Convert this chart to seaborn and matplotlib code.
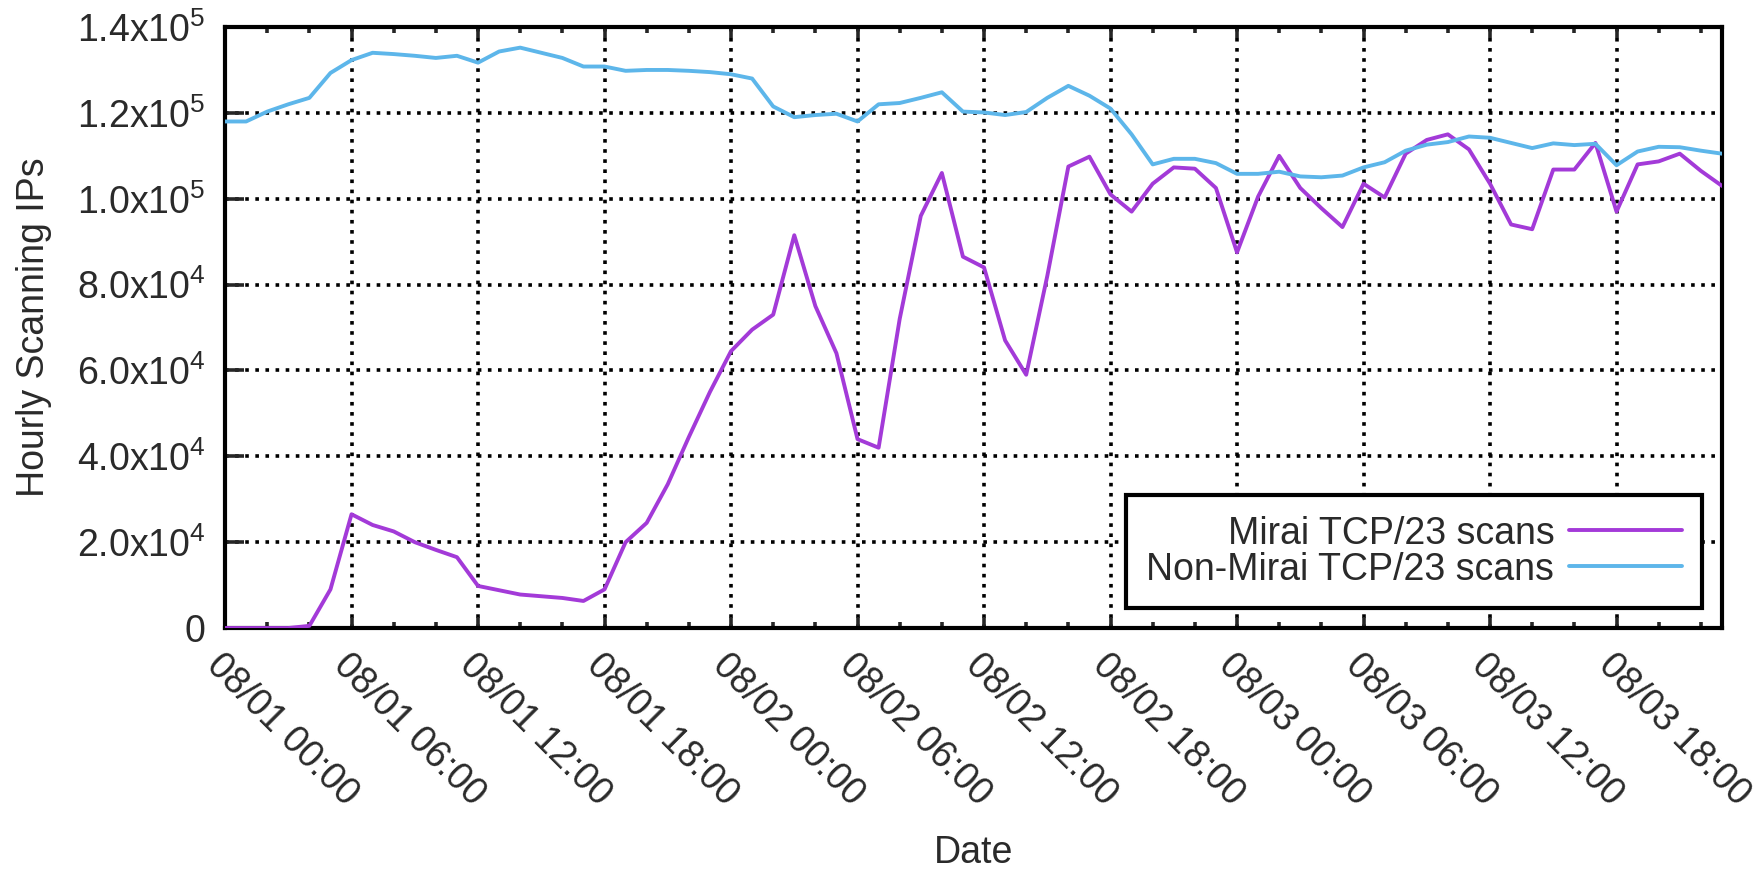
import pandas as pd
import matplotlib
matplotlib.use("Agg")
import matplotlib.pyplot as plt
import seaborn as sns
from matplotlib.ticker import MultipleLocator, FixedLocator

# Hourly scanning IPs, 08/01 00:00 .. 08/03 23:00 (72 hours)
hours = list(range(72))

mirai = [
    0, 0, 0, 0, 500, 9000, 26500, 24000, 22500, 20000, 18200, 16500,
    9800, 8800, 7800, 7400, 7000, 6300, 9000, 20000, 24500, 33500, 44500, 55000,
    64500, 69500, 73000, 91500, 75000, 64000, 44000, 42000, 72000, 96000, 106000, 86500,
    84000, 67000, 59000, 82000, 107500, 109800, 101000, 97000, 103500, 107300, 107000, 102500,
    87500, 100500, 110000, 102500, 97800, 93400, 103500, 100300, 110500, 113700, 115000, 111500,
    103500, 94000, 92900, 106800, 106800, 113000, 97000, 108000, 108700, 110500, 106500, 103000,
]

non_mirai = [
    118000, 118000, 120300, 122000, 123500, 129300, 132300, 134000, 133700, 133300, 132800, 133300,
    131700, 134300, 135200, 134000, 132800, 130800, 130800, 129800, 130000, 130000, 129800, 129500,
    129000, 128000, 121500, 119000, 119500, 119800, 118000, 122000, 122300, 123500, 124800, 120300,
    120100, 119500, 120200, 123500, 126300, 124000, 121000, 115000, 108000, 109300, 109300, 108300,
    105800, 105800, 106300, 105200, 105000, 105400, 107300, 108500, 111200, 112600, 113200, 114500,
    114200, 113000, 111800, 112900, 112500, 112800, 107800, 111000, 112100, 112000, 111200, 110500,
]

series_names = ["Mirai TCP/23 scans", "Non-Mirai TCP/23 scans"]
series_colors = {"Mirai TCP/23 scans": "#a33ad8", "Non-Mirai TCP/23 scans": "#5db6ea"}

xtick_hours = list(range(0, 72, 6))
xtick_labels = ["08/01 00:00", "08/01 06:00", "08/01 12:00", "08/01 18:00",
                "08/02 00:00", "08/02 06:00", "08/02 12:00", "08/02 18:00",
                "08/03 00:00", "08/03 06:00", "08/03 12:00", "08/03 18:00"]

ytick_values = [0, 20000, 40000, 60000, 80000, 100000, 120000, 140000]
ytick_labels = ["0",
                r"$\mathregular{2.0x10^{4}}$", r"$\mathregular{4.0x10^{4}}$",
                r"$\mathregular{6.0x10^{4}}$", r"$\mathregular{8.0x10^{4}}$",
                r"$\mathregular{1.0x10^{5}}$", r"$\mathregular{1.2x10^{5}}$",
                r"$\mathregular{1.4x10^{5}}$"]

df = pd.DataFrame({
    "hour": hours + hours,
    "ips": mirai + non_mirai,
    "series": [series_names[0]] * len(hours) + [series_names[1]] * len(hours),
})

sns.set_style("ticks")
plt.rcParams["font.family"] = ["Liberation Sans", "DejaVu Sans"]
plt.rcParams["mathtext.fontset"] = "custom"
plt.rcParams["mathtext.rm"] = "Liberation Sans"
plt.rcParams["mathtext.it"] = "Liberation Sans:italic"
plt.rcParams["mathtext.bf"] = "Liberation Sans:bold"

text_color = "#2a2a2a"
fs = 27

fig = plt.figure(figsize=(17.65, 8.72), dpi=100)
ax = fig.add_axes([0.1275, 0.2798, 0.8481, 0.6892])

sns.lineplot(data=df, x="hour", y="ips", hue="series", hue_order=series_names,
             palette=series_colors, linewidth=2.8, ax=ax, zorder=3)

ax.set_xlim(0, 71)
ax.set_ylim(0, 140000)

# gnuplot-like dotted grid
ax.grid(True, which="major", color="black", linestyle=(0, (1, 1.8)), linewidth=2.6, zorder=1)

ax.xaxis.set_major_locator(FixedLocator(xtick_hours))
ax.xaxis.set_minor_locator(MultipleLocator(2))
ax.set_xticklabels(xtick_labels, rotation=-45, ha="left", va="top",
                   rotation_mode="anchor", fontsize=fs, color=text_color)
ax.yaxis.set_major_locator(FixedLocator(ytick_values))
ax.set_yticklabels(ytick_labels, fontsize=fs, color=text_color)

ax.tick_params(axis="x", which="major", direction="in", length=8, width=2.6,
               top=True, pad=14)
ax.tick_params(axis="x", which="minor", direction="in", length=4, width=2.6, top=True)
ax.tick_params(axis="y", which="major", direction="in", length=14, width=2.6, pad=14)

for side in ["left", "right", "top", "bottom"]:
    ax.spines[side].set_linewidth(3.0)
    ax.spines[side].set_color("black")

ax.set_xlabel("Date", fontsize=fs, color=text_color, va="center")
ax.xaxis.set_label_coords(0.5, -0.374)
ax.set_ylabel("Hourly Scanning IPs", fontsize=fs, color=text_color, va="center")
ax.yaxis.set_label_coords(-0.1276, 0.5)

handles, labels = ax.get_legend_handles_labels()
leg = ax.legend(handles, labels, loc="lower right", bbox_to_anchor=(0.987, 0.033),
                borderaxespad=0, markerfirst=False, frameon=True, fancybox=False,
                edgecolor="black", framealpha=1, handlelength=3, handletextpad=0.4,
                labelspacing=0.0, borderpad=0.55, fontsize=fs)
leg.get_frame().set_linewidth(3.0)
leg.set_zorder(5)
for t in leg.get_texts():
    t.set_color(text_color)

fig.savefig("out.png", dpi=100)
